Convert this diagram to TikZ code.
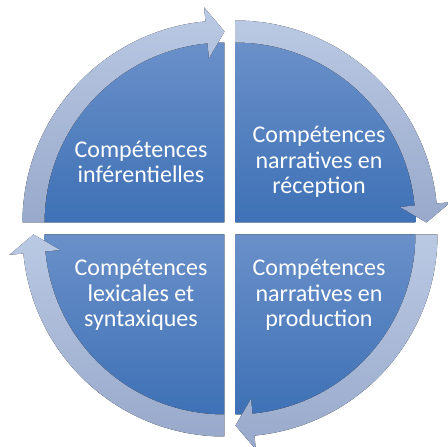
\documentclass[tikz,border=0pt]{standalone}
\usepackage{fontspec}
\setmainfont{Carlito}
\usepackage{tikz}
\usetikzlibrary{positioning}

\definecolor{secttop}{RGB}{106,144,201}
\definecolor{sectbot}{RGB}{62,113,182}
\definecolor{ringtop}{RGB}{186,201,227}
\definecolor{ringbot}{RGB}{152,169,203}

\begin{document}
\begin{tikzpicture}[x=1pt, y=1pt,
    sector/.style={top color=secttop, bottom color=sectbot, draw=none},
    ringarrow/.style={top color=ringtop, bottom color=ringbot, draw=none},
    quadtext/.style={text=white, align=center, font=\fontsize{24}{25.7}\selectfont}]
  \useasboundingbox (-230,-218.5) rectangle (218,228.5);
  % quarter discs, pushed apart from the centre
  \foreach \dx/\dy/\start in {-5.5/6/180, 5.5/6/90, 5.5/-6/0, -5.5/-6/-90}{
    \fill [sector, shift={(\dx,\dy)}] (0,0) -- (\start:180)
      arc [start angle=\start, end angle=\start-90, radius=180] -- cycle;
  }
  % ring pieces with their heads, clockwise
  \foreach \dx/\dy/\start in {-5.5/6/180, 5.5/6/90, 5.5/-6/0, -5.5/-6/-90}{
    \pgfmathsetmacro\stop{\start-84.6}
    \fill [ringarrow, shift={(\dx,\dy)}] (\start:180) -- (\start:202)
      arc [start angle=\start, end angle=\stop, radius=202]
      -- (\stop:216) -- (\start-90:191) -- (\stop:165) -- (\stop:180)
      arc [start angle=\stop, end angle=\start, radius=180] -- cycle;
  }
  \node [quadtext] (infer) at (-89,66.5) {Compétences\\inférentielles};
  \node [quadtext] (recep) at (89,66.5) {Compétences\\narratives en\\réception};
  \node [quadtext] (prod) at (89,-66.5) {Compétences\\narratives en\\production};
  \node [quadtext] (lexi) at (-89,-66.5) {Compétences\\lexicales et\\syntaxiques};
\end{tikzpicture}
\end{document}
